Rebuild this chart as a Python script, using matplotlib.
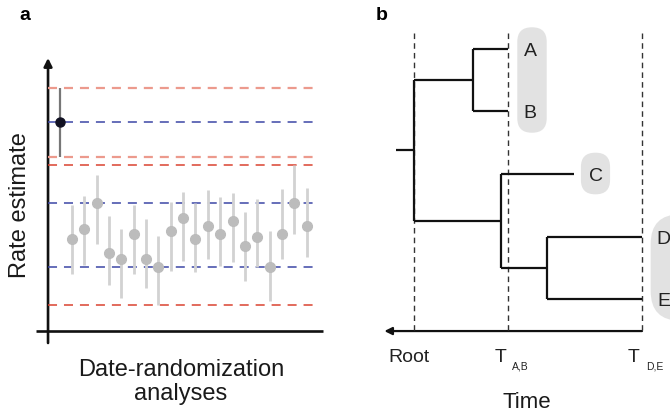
import matplotlib

matplotlib.use("Agg")
import matplotlib.pyplot as plt
from matplotlib.patches import FancyArrowPatch, FancyBboxPatch

plt.rcParams["font.family"] = ["Liberation Sans", "DejaVu Sans"]
plt.rcParams["lines.scale_dashes"] = False

# panel a: date-randomization replicates (rate estimate, lower, upper)
rand_mid = [9.17, 10.23, 12.77, 7.77, 7.23, 9.70, 7.23, 6.37, 10.00, 11.33,
            9.17, 10.47, 9.70, 11.00, 8.53, 9.37, 6.37, 9.70, 12.77, 10.53]
rand_low = [5.70, 6.60, 8.70, 4.60, 3.33, 5.70, 4.33, 2.60, 6.03, 7.03,
            5.90, 7.23, 6.50, 6.90, 5.03, 6.37, 3.03, 7.23, 9.67, 7.43]
rand_high = [12.60, 13.50, 15.60, 11.50, 10.20, 12.60, 11.20, 9.50, 12.90, 13.90,
             12.77, 14.10, 13.43, 13.83, 11.93, 13.20, 9.97, 14.17, 16.60, 14.33]

# original estimate with its interval
true_mid = 20.87
true_low = 17.43
true_high = 24.33

# reference lines
true_ci_lines = [24.33, 17.43]
true_mid_line = 20.87
rand_mid_lines = [12.77, 6.37]
rand_ci_lines = [16.6, 2.6]

# panel b: tree (time from root = 0 to latest tips = 1, tips ordered top to bottom)
tip_names = ["A", "B", "C", "D", "E"]
tip_time = [0.414, 0.414, 0.703, 1.0, 1.0]
node_ab_time = 0.26
node_cde_time = 0.382
node_de_time = 0.582
root_stub_time = -0.079
time_marks = [0.0, 0.414, 1.0]
time_labels = ["Root", "T", "T"]
time_subs = ["", "A,B", "D,E"]

LIGHT_RED = "#ec9a8d"
RED = "#da4330"
BLUE = "#3c46a6"
GREY_PT = "#bcbcbc"
GREY_BAR = "#d2d2d2"
W, H = 670, 416


def fig_xy(px, py):
    return px / W, 1 - py / H


def main():
    fig = plt.figure(figsize=(6.7, 4.16), dpi=100)

    # ---------- panel a ----------
    ax = fig.add_axes([0, 0, 0.5, 1])
    ax.set_xlim(-5.83, 21.30)
    ax.set_ylim(-8.5, 33.1)
    ax.axis("off")

    x0, x1 = -1.94, 19.92
    dash = [(0, (6.5, 5))]
    ax.hlines(true_ci_lines, x0, x1, colors=LIGHT_RED, linewidth=1.6, linestyles=dash)
    ax.hlines([true_mid_line], x0, x1, colors=BLUE, linewidth=1.1, linestyles=dash)
    ax.hlines(rand_mid_lines, x0, x1, colors=BLUE, linewidth=1.1, linestyles=dash)
    ax.hlines(rand_ci_lines, x0, x1, colors=RED, linewidth=1.1, linestyles=dash)

    xs = list(range(len(rand_mid)))
    ax.vlines(xs, rand_low, rand_high, colors=GREY_BAR, linewidth=2.0, zorder=3)
    ax.plot(xs, rand_mid, "o", color=GREY_PT, markersize=7, zorder=4)

    ax.vlines([-1], [true_low], [true_high], colors="#777777", linewidth=1.6, zorder=3)
    ax.plot([-1], [true_mid], "o", color="#111122", markersize=6.5, zorder=5)

    # axes drawn by hand
    ax.plot([-2.91, 20.32], [0, 0], color="#111111", linewidth=1.9, solid_capstyle="butt")
    ax.add_patch(FancyArrowPatch((-1.94, -1.2), (-1.94, 27.3), arrowstyle="-|>",
                                 mutation_scale=12, color="#111111", linewidth=1.9,
                                 shrinkA=0, shrinkB=0))

    fig.text(*fig_xy(20, 205), "Rate estimate", rotation=90, fontsize=17,
             ha="center", va="center", color="#1a1a1a")
    fig.text(*fig_xy(181, 382), "Date-randomization\nanalyses", fontsize=17,
             ha="center", va="center", linespacing=1.15, color="#1a1a1a")
    fig.text(*fig_xy(25, 15), "a", fontsize=14, fontweight="bold",
             ha="center", va="center")

    # ---------- panel b ----------
    bx = fig.add_axes([0.5, 0, 0.5, 1])
    bx.set_xlim(-0.3465, 1.1228)
    bx.set_ylim(5.867, -0.778)
    bx.axis("off")

    # grey tip groups
    aspect = (1 / 62.6) / (1 / 228)
    for (xa, xb, ya, yb) in [(0.453, 0.582, -0.342, 1.342),
                             (0.732, 0.860, 1.661, 2.326),
                             (1.038, 1.30, 2.645, 4.345)]:
        bx.add_patch(FancyBboxPatch((xa, ya), xb - xa, yb - ya,
                                    boxstyle="round,pad=0,rounding_size=%f" % ((xb - xa) / 2 - 0.001),
                                    mutation_aspect=aspect, facecolor="#e2e2e2",
                                    edgecolor="none", zorder=1))

    # dashed time marks
    bx.vlines(time_marks, -0.25, 4.5, colors="#333333", linewidth=1.0,
              linestyles=[(0, (4, 3))], zorder=2)

    kw = dict(color="#111111", linewidth=1.6, solid_capstyle="butt", zorder=3)
    tip_y = list(range(len(tip_names)))
    ab_y = (tip_y[0] + tip_y[1]) / 2
    de_y = (tip_y[3] + tip_y[4]) / 2
    cde_y = (tip_y[2] + de_y) / 2
    root_y = (ab_y + cde_y) / 2
    bx.plot([root_stub_time, 0], [root_y, root_y], **kw)
    bx.plot([0, 0], [ab_y, cde_y], **kw)
    bx.plot([0, node_ab_time], [ab_y, ab_y], **kw)
    bx.plot([node_ab_time] * 2, [tip_y[0], tip_y[1]], **kw)
    bx.plot([0, node_cde_time], [cde_y, cde_y], **kw)
    bx.plot([node_cde_time] * 2, [tip_y[2], de_y], **kw)
    bx.plot([node_cde_time, node_de_time], [de_y, de_y], **kw)
    bx.plot([node_de_time] * 2, [tip_y[3], tip_y[4]], **kw)
    for i in range(len(tip_names)):
        start = node_ab_time if i < 2 else (node_cde_time if i == 2 else node_de_time)
        bx.plot([start, tip_time[i]], [tip_y[i], tip_y[i]], **kw)
        bx.text(tip_time[i] + 0.095, tip_y[i] + 0.04, tip_names[i], fontsize=14,
                ha="center", va="center", color="#222222", zorder=4)

    bx.add_patch(FancyArrowPatch((1.0, 4.51), (-0.13, 4.51), arrowstyle="-|>",
                                 mutation_scale=11, color="#111111", linewidth=1.6,
                                 shrinkA=0, shrinkB=0))

    for t, lab, sub in zip(time_marks, time_labels, time_subs):
        if sub:
            bx.text(t - 0.036, 4.93, lab, fontsize=14, ha="center", va="center",
                    color="#222222")
            bx.text(t + 0.016, 5.08, sub, fontsize=7.5, ha="left", va="center",
                    color="#222222")
        else:
            bx.text(t - 0.023, 4.93, lab, fontsize=14, ha="center", va="center",
                    color="#222222")

    fig.text(*fig_xy(527, 403), "Time", fontsize=16, ha="center", va="center",
             color="#1a1a1a")
    fig.text(*fig_xy(382, 15), "b", fontsize=14, fontweight="bold",
             ha="center", va="center")

    fig.savefig("out.png", dpi=100)
    plt.close(fig)


if __name__ == "__main__":
    main()
